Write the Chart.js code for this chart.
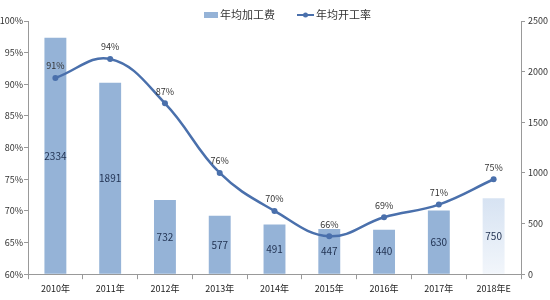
<!DOCTYPE html>
<html>
<head>
<meta charset="utf-8">
<script src="https://cdn.jsdelivr.net/npm/chart.js@4"></script>
<style>
  html, body { margin: 0; padding: 0; background: #fff; }
  #wrap { width: 550px; height: 300px; position: relative; }
</style>
</head>
<body>
<div id="wrap"><canvas id="feeChart"></canvas></div>
<script>
const years = ['2010年', '2011年', '2012年', '2013年', '2014年', '2015年', '2016年', '2017年', '2018年E'];
const processingFee = [2334, 1891, 732, 577, 491, 447, 440, 630, 750];
const utilization = [91, 94, 87, 76, 70, 66, 69, 71, 75];
const feeLabel = '年均加工费';
const rateLabel = '年均开工率';

const barColor = '#95B3D7';
const lineColor = '#4A70AC';
const fontFamily = '"Noto Sans CJK SC", "Liberation Sans", sans-serif';

function barFill(ctx) {
    if (ctx.dataIndex !== years.length - 1) return barColor;
    const area = ctx.chart.chartArea;
    if (!area) return barColor;
    const g = ctx.chart.ctx.createLinearGradient(0, area.top, 0, area.bottom);
    g.addColorStop(0, '#AFC6E3');
    g.addColorStop(0.55, '#C9D9EE');
    g.addColorStop(1, '#F2F6FB');
    return g;
}

// value labels + custom legend
const labelPlugin = {
    id: 'labels',
    afterDatasetsDraw(chart) {
        const c = chart.ctx;
        c.save();
        c.textAlign = 'center';
        c.textBaseline = 'middle';
        c.font = '10px ' + fontFamily;
        c.fillStyle = '#1F3050';
        chart.getDatasetMeta(1).data.forEach((el, i) => {
            c.fillText(processingFee[i], el.x, (el.y + el.base) / 2);
        });
        c.font = '9px ' + fontFamily;
        c.fillStyle = '#333';
        chart.getDatasetMeta(0).data.forEach((el, i) => {
            c.fillText(utilization[i] + '%', el.x, el.y - 12);
        });
        c.restore();
    },
    afterDraw(chart) {
        const c = chart.ctx;
        c.save();
        c.font = '11px ' + fontFamily;
        c.textBaseline = 'middle';
        c.fillStyle = barColor;
        c.fillRect(204, 12, 14, 6);
        c.fillStyle = '#333';
        c.fillText(feeLabel, 220, 15);
        c.strokeStyle = lineColor;
        c.lineWidth = 2;
        c.beginPath();
        c.moveTo(297, 15);
        c.lineTo(314, 15);
        c.stroke();
        c.fillStyle = lineColor;
        c.beginPath();
        c.arc(305.5, 15, 2.5, 0, Math.PI * 2);
        c.fill();
        c.fillStyle = '#333';
        c.fillText(rateLabel, 316, 15);
        c.restore();
    }
};

new Chart(document.getElementById('feeChart').getContext('2d'), {
    data: {
        labels: years,
        datasets: [{
            type: 'line',
            label: rateLabel,
            data: utilization,
            yAxisID: 'yRate',
            borderColor: lineColor,
            backgroundColor: lineColor,
            borderWidth: 2.5,
            pointRadius: 3,
            pointBackgroundColor: lineColor,
            pointBorderWidth: 0,
            tension: 0.4,
            order: 1
        }, {
            type: 'bar',
            label: feeLabel,
            data: processingFee,
            yAxisID: 'yFee',
            backgroundColor: barFill,
            barPercentage: 0.8,
            categoryPercentage: 0.5,
            order: 2
        }]
    },
    options: {
        responsive: true,
        maintainAspectRatio: false,
        animation: false,
        layout: { padding: { top: 21, right: 0, left: 0, bottom: 2 } },
        plugins: { legend: { display: false }, tooltip: { enabled: false } },
        scales: {
            x: {
                grid: { drawOnChartArea: false, tickLength: 5, color: '#999', offset: true },
                border: { color: '#999' },
                ticks: { color: '#222', font: { size: 9, family: fontFamily }, padding: 4 }
            },
            yRate: {
                position: 'left',
                min: 60, max: 100,
                afterFit: s => { s.width = 28; },
                grid: { drawOnChartArea: false, tickLength: 4, color: '#999' },
                border: { color: '#999' },
                ticks: { stepSize: 5, padding: 1, color: '#333', font: { size: 9, family: fontFamily }, callback: v => v + '%' }
            },
            yFee: {
                position: 'right',
                min: 0, max: 2500,
                afterFit: s => { s.width = 29; },
                grid: { drawOnChartArea: false, tickLength: 4, color: '#999' },
                border: { color: '#999' },
                ticks: { stepSize: 500, padding: 3, color: '#333', font: { size: 9, family: fontFamily }, callback: v => String(v) }
            }
        }
    },
    plugins: [labelPlugin]
});
</script>
</body>
</html>
